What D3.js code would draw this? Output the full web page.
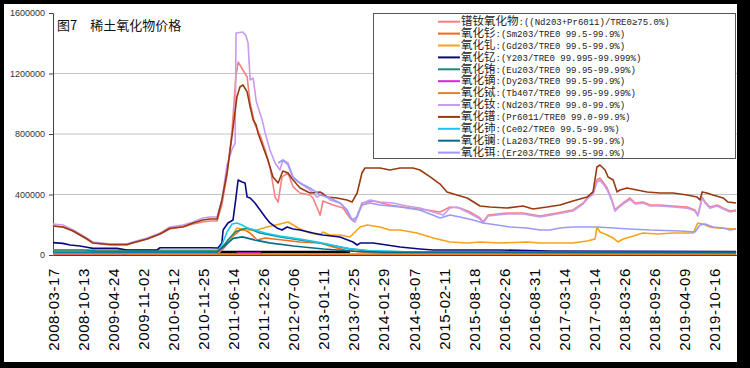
<!DOCTYPE html>
<html><head><meta charset="utf-8">
<script src="https://cdn.jsdelivr.net/npm/d3@7"></script>
<style>
html,body{margin:0;padding:0;background:#000;}
svg{display:block;}
</style></head><body>
<svg id="c" width="750" height="368"></svg>
<script>
// x positions are in units of label intervals (0 = 2008-03-17, 1 = 2008-10-13, ...)
const tickLabels = ["2008-03-17","2008-10-13","2009-04-24","2009-11-02","2010-05-12","2010-11-25","2011-06-14","2011-12-26","2012-07-06","2013-01-11","2013-07-25","2014-01-29","2014-08-07","2015-02-11","2015-08-18","2016-02-26","2016-08-31","2017-03-14","2017-09-14","2018-03-26","2018-09-26","2019-04-09","2019-10-16"];
const yTicks = [0, 400000, 800000, 1200000, 1600000];

// values in 1000 yuan/t
const prNd = [[0,192],[0.33,185],[0.67,159],[0.9,132],[1.13,106],[1.33,79],[1.9,66],[2.46,66],[2.66,79],[3.13,106],[3.56,139],[3.89,172],[4.33,185],[4.66,205],[4.99,218],[5.22,225],[5.46,225],[5.62,331],[5.79,529],[5.96,827],[6.09,1190],[6.16,1276],[6.32,1223],[6.46,1177],[6.56,1005],[6.72,860],[6.89,793],[7.06,694],[7.22,582],[7.39,383],[7.49,350],[7.62,516],[7.82,542],[7.99,450],[8.22,410],[8.55,397],[8.65,377],[8.89,264],[8.98,357],[9.32,331],[9.65,311],[9.88,245],[10.05,218],[10.28,344],[10.65,357],[11.21,331],[11.88,311],[12.45,298],[12.88,284],[13.21,317],[13.54,311],[13.88,284],[14.21,245],[14.31,218],[14.48,264],[15.11,278],[15.64,278],[16.21,258],[16.77,278],[17.3,298],[17.64,344],[17.8,383],[17.97,410],[18.1,496],[18.2,509],[18.3,483],[18.44,443],[18.6,364],[18.7,298],[18.8,317],[18.97,344],[19.2,377],[19.37,344],[19.63,350],[19.87,331],[20.2,331],[20.63,324],[21.1,317],[21.36,298],[21.46,264],[21.6,383],[21.7,350],[21.86,317],[22.1,331],[22.3,311],[22.53,291],[22.73,298]];
const sm = [[0,7],[5.46,7],[5.62,33],[5.72,53],[5.96,119],[6.22,165],[6.39,165],[6.56,145],[6.79,99],[7.06,112],[7.65,99],[8.22,86],[8.89,79],[9.32,53],[9.72,33],[10.22,20],[10.88,13],[22.73,12]];
const gd = [[0,33],[5.46,33],[5.66,60],[5.89,99],[6.12,179],[6.46,165],[6.79,165],[7.12,185],[7.55,205],[7.82,218],[8.22,172],[8.55,145],[8.89,132],[8.98,152],[9.22,132],[9.55,132],[9.88,119],[10.22,185],[10.45,198],[10.88,185],[11.21,165],[11.55,165],[12.11,145],[12.65,112],[13.21,86],[13.78,79],[14.21,86],[14.88,79],[15.77,86],[16.21,79],[17.3,79],[17.77,93],[18.04,106],[18.1,185],[18.2,152],[18.44,132],[18.64,112],[18.8,86],[18.97,106],[19.2,119],[19.63,145],[20.1,139],[20.63,145],[21.3,145],[21.46,212],[21.63,205],[21.86,185],[22.1,179],[22.73,172]];
const y2o3 = [[0,82],[0.33,77],[0.57,66],[0.9,60],[1.13,51],[1.33,44],[2.13,44],[2.46,33],[3.46,33],[3.56,48],[5.22,48],[5.49,46],[5.62,79],[5.66,165],[5.82,212],[5.99,231],[6.09,383],[6.16,496],[6.29,483],[6.39,476],[6.46,383],[6.56,377],[6.72,344],[6.89,298],[7.06,251],[7.22,212],[7.45,179],[7.62,165],[7.79,185],[7.99,172],[8.22,165],[8.65,145],[8.98,132],[9.55,119],[9.98,86],[10.12,66],[10.22,79],[10.65,79],[11.11,66],[11.55,53],[11.88,46],[12.21,40],[12.65,33],[14.88,33],[16.54,26],[22.73,23]];
const eu = [[0,33],[1.0,33],[1.5,26],[5.46,26],[5.62,46],[5.82,99],[6.06,152],[6.22,165],[6.46,179],[6.89,145],[7.55,119],[8.22,99],[8.89,79],[9.55,53],[9.88,40],[10.55,26],[12,20],[22.73,18]];
const dy = [[0,7],[6.09,7],[6.12,13],[6.89,13],[6.99,5],[22.73,5]];
const tb = [[0,0],[2.5,0],[2.6,3],[22.73,3]];
const nd = [[0,205],[0.33,198],[0.67,165],[0.9,139],[1.13,112],[1.33,86],[1.9,73],[2.46,73],[2.66,86],[3.13,112],[3.56,145],[3.89,185],[4.33,198],[4.66,218],[4.99,245],[5.22,251],[5.46,251],[5.62,364],[5.79,595],[5.96,700],[6.06,740],[6.09,1468],[6.32,1474],[6.42,1450],[6.49,1402],[6.56,1157],[6.66,1170],[6.76,1020],[6.82,979],[6.96,893],[7.06,807],[7.22,694],[7.39,608],[7.55,562],[7.65,628],[7.82,608],[7.99,516],[8.22,476],[8.55,430],[8.79,383],[8.98,410],[9.22,364],[9.55,344],[9.78,298],[9.95,231],[10.05,218],[10.15,278],[10.32,344],[10.55,364],[10.88,350],[11.31,344],[11.78,324],[12.21,311],[12.65,284],[12.98,264],[13.21,311],[13.44,317],[13.78,284],[14.21,238],[14.31,212],[14.48,258],[15.11,271],[15.64,271],[16.21,251],[16.77,271],[17.3,291],[17.64,337],[17.8,376],[17.97,400],[18.1,480],[18.2,495],[18.3,470],[18.44,430],[18.6,355],[18.7,290],[18.8,310],[18.97,337],[19.2,368],[19.37,337],[19.63,343],[19.87,324],[20.2,324],[20.63,317],[21.1,310],[21.36,291],[21.46,258],[21.6,376],[21.7,343],[21.86,310],[22.1,324],[22.3,304],[22.53,284],[22.73,291]];
const pr = [[0,192],[0.33,185],[0.67,159],[0.9,132],[1.13,106],[1.33,79],[1.9,69],[2.46,69],[2.66,81],[3.13,106],[3.56,139],[3.89,177],[4.33,187],[4.66,212],[4.99,231],[5.22,238],[5.46,238],[5.62,364],[5.79,542],[5.96,793],[6.12,1045],[6.22,1111],[6.32,1124],[6.46,1078],[6.56,979],[6.66,893],[6.76,860],[6.82,807],[6.99,714],[7.15,628],[7.32,516],[7.49,476],[7.65,555],[7.82,542],[7.99,496],[8.22,443],[8.55,410],[8.89,417],[9.12,383],[9.45,377],[9.78,364],[9.95,350],[10.12,410],[10.28,542],[10.38,575],[10.88,575],[11.21,562],[11.55,575],[11.98,575],[12.21,562],[12.55,516],[12.88,469],[13.11,417],[13.44,397],[13.78,377],[14.21,324],[14.54,317],[15.11,311],[15.64,324],[15.97,304],[16.44,317],[16.87,331],[17.3,357],[17.77,383],[17.97,417],[18.1,582],[18.2,595],[18.37,562],[18.47,516],[18.64,496],[18.77,417],[18.87,430],[19.1,443],[19.43,430],[19.77,417],[20.2,410],[20.63,410],[21.1,397],[21.43,383],[21.53,364],[21.6,417],[21.76,410],[21.96,397],[22.3,377],[22.46,350],[22.73,344]];
const ce = [[0,15],[5.46,15],[5.62,66],[5.79,152],[5.96,205],[6.12,212],[6.29,198],[6.46,179],[6.72,165],[7.06,145],[7.55,125],[8.22,105],[8.89,82],[9.55,55],[9.88,42],[10.55,28],[12,20],[13,14],[22.73,12]];
const la = [[0,20],[5.46,20],[5.7,60],[6.0,110],[6.3,120],[6.7,100],[7.2,80],[8.0,60],[9.0,40],[10.0,25],[11,18],[22.73,16]];
const er = [[7.49,608],[7.65,628],[7.82,595],[7.99,509],[8.22,476],[8.55,443],[8.89,397],[9.22,377],[9.55,344],[9.78,298],[9.95,231],[10.12,251],[10.28,331],[10.55,344],[10.88,331],[11.55,317],[12.21,298],[12.88,245],[13.21,264],[13.54,251],[13.98,231],[14.31,212],[14.78,198],[15.21,185],[15.77,179],[16.21,165],[16.54,165],[16.87,179],[17.3,185],[17.77,185],[18.1,185],[19.2,172],[19.87,165],[20.87,159],[21.36,152],[21.53,198],[21.7,205],[21.96,185],[22.3,179],[22.53,165],[22.73,172]];
const blackBand = [[5.56,20],[9.88,20]];

const seriesNamesCn = ["镨钕氧化物","氧化钐","氧化钆","氧化钇","氧化铕","氧化镝","氧化铽","氧化钕","氧化镨","氧化铈","氧化镧","氧化铒"];
const seriesSpecs = [":((Nd203+Pr6011)/TRE0≥75.0%)",":(Sm203/TRE0 99.5-99.9%)",":(Gd203/TRE0 99.5-99.9%)",":(Y203/TRE0 99.995-99.999%)",":(Eu203/TRE0 99.95-99.99%)",":(Dy203/TRE0 99.5-99.9%)",":(Tb407/TRE0 99.95-99.99%)",":(Nd203/TRE0 99.0-99.9%)",":(Pr6011/TRE0 99.0-99.9%)",":(Ce02/TRE0 99.5-99.9%)",":(La203/TRE0 99.5-99.9%)",":(Er203/TRE0 99.5-99.9%)"];
const seriesData = [prNd, sm, gd, y2o3, eu, dy, tb, nd, pr, ce, la, er];
const seriesColors = ["#f88080","#f26a1b","#f7a21b","#0a0a80","#168a80","#e020e0","#e8802a","#c89af0","#983a10","#18c8f0","#0a6a8a","#9a9af8"];

const svg = d3.select("#c");
svg.append("rect").attr("x",4).attr("y",4).attr("width",733).attr("height",358).attr("fill","#fff");

const x = d3.scaleLinear().domain([0, 22.76]).range([53, 737]);
const y = d3.scaleLinear().domain([0, 1600000]).range([255, 13]);

// gridlines
svg.append("g").selectAll("line").data(yTicks.filter(d => d > 0 && d < 1600000)).join("line")
  .attr("x1", 53).attr("x2", 737).attr("y1", d => y(d)).attr("y2", d => y(d))
  .attr("stroke", "#c4c4c4").attr("stroke-width", 1);

// y axis
const ya = svg.append("g").attr("transform", "translate(53,0)")
  .call(d3.axisLeft(y).tickValues(yTicks).tickSize(4).tickPadding(4).tickFormat(d => String(d)));
ya.select(".domain").attr("stroke", "#444");
ya.selectAll(".tick line").attr("stroke", "#444");
ya.selectAll("text").attr("font-family", "Liberation Sans, Arial, sans-serif").attr("font-size", 9).attr("fill", "#333");

// title
svg.append("text").attr("x", 57).attr("y", 30).attr("font-family", "Noto Sans CJK SC, sans-serif")
  .attr("font-size", 13).attr("fill", "#111").text("图7　稀土氧化物价格");

// lines
const line = d3.line().x(d => x(d[0])).y(d => y(d[1] * 1000));
svg.append("path").attr("d", line(blackBand)).attr("fill", "none").attr("stroke", "#000").attr("stroke-width", 2.5);
svg.append("g").selectAll("path").data(seriesData).join("path")
  .attr("d", d => line(d)).attr("fill", "none")
  .attr("stroke", (d, i) => seriesColors[i]).attr("stroke-width", 1.6).attr("stroke-linejoin", "round");

// x axis
const xa = svg.append("g").attr("transform", "translate(0,255)")
  .call(d3.axisBottom(x).tickValues(d3.range(tickLabels.length)).tickSize(0).tickFormat(i => tickLabels[i]));
xa.select(".domain").attr("stroke", "#444");
xa.selectAll("text").attr("transform", "rotate(-90)").attr("x", -13).attr("y", 0).attr("dy", "0.36em")
  .attr("text-anchor", "end").attr("font-family", "Liberation Sans, Arial, sans-serif")
  .attr("font-size", 15).attr("letter-spacing", 0.6).attr("fill", "#000");

// legend
const lg = svg.append("g");
lg.append("rect").attr("x", 373.5).attr("y", 13.5).attr("width", 362).attr("height", 145)
  .attr("fill", "#fff").attr("stroke", "#555").attr("stroke-width", 1);
const rows = lg.selectAll("g.row").data(seriesNamesCn).join("g").attr("class", "row")
  .attr("transform", (d, i) => `translate(0,${21.7 + i * 11.9})`);
rows.append("line").attr("x1", 438).attr("x2", 460).attr("y1", 0).attr("y2", 0)
  .attr("stroke", (d, i) => seriesColors[i]).attr("stroke-width", 2);
const lt = rows.append("text").attr("x", 461).attr("y", 0).attr("dy", "0.36em")
  .attr("font-family", "Liberation Mono, monospace").attr("font-size", 9).attr("fill", "#222");
lt.append("tspan").attr("font-family", "Liberation Mono, Noto Sans CJK SC").attr("font-size", 11.5).text(d => d);
lt.append("tspan").text((d, i) => seriesSpecs[i]);
</script></body></html>
